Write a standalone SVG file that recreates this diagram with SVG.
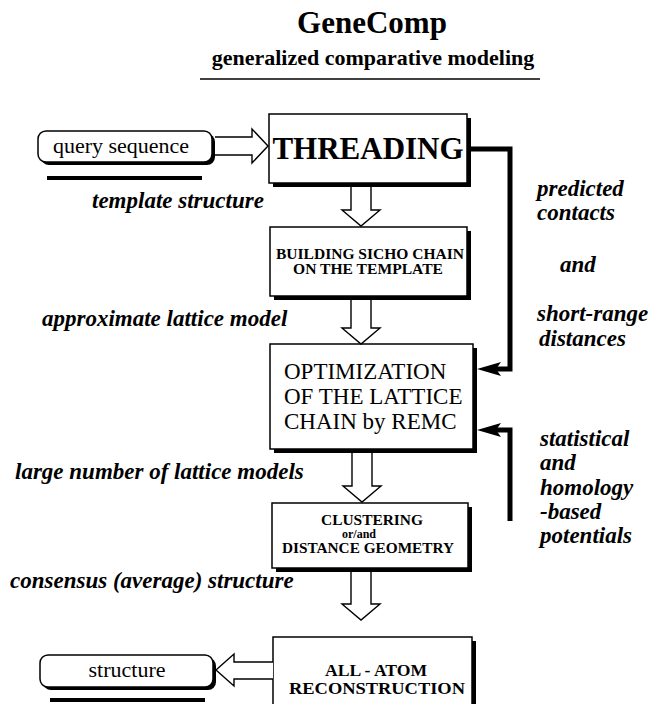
<svg xmlns="http://www.w3.org/2000/svg" width="652" height="704" viewBox="0 0 652 704">
<style>
.bg{fill:#fff}
.box{fill:#fff;stroke:#000;stroke-width:1.5}
.shadow{fill:#000}
.hollow{fill:#fff;stroke:#000;stroke-width:1.4;stroke-linejoin:miter}
.conn{fill:none;stroke:#000;stroke-width:5;stroke-linejoin:miter}
.serif{font-family:"Liberation Serif","Times New Roman",serif;fill:#000}
.b{font-weight:bold}
.lbl{font-family:"Liberation Serif","Times New Roman",serif;font-style:italic;font-weight:bold;font-size:23px;fill:#000}
.mid{text-anchor:middle}
</style>
<defs>
<marker id="ah" viewBox="0 0 24 14" refX="9" refY="7" markerWidth="24" markerHeight="14" markerUnits="userSpaceOnUse" orient="auto">
<path d="M0,0 L24,7 L0,14 L5,7 Z" fill="#000"/>
</marker>
</defs>
<rect class="bg" x="0" y="0" width="652" height="704"/>

<g id="title">
<text class="serif b mid" x="372" y="33" font-size="31">GeneComp</text>
<text class="serif b mid" x="373" y="65" font-size="22">generalized comparative modeling</text>
<line x1="200" y1="79" x2="540" y2="79" stroke="#000" stroke-width="1.5"/>
</g>

<g id="query">
<rect class="shadow" x="41" y="134" width="174" height="31" rx="8"/>
<rect class="box" x="38" y="131" width="174" height="31" rx="8"/>
<text class="serif mid" x="121" y="153" font-size="22">query sequence</text>
<rect class="shadow" x="47" y="176" width="155" height="4"/>
</g>

<g id="threading">
<rect class="shadow" x="273" y="118" width="198" height="69"/>
<rect class="box" x="269" y="114" width="198" height="69"/>
<text class="serif b mid" x="368" y="159" font-size="31">THREADING</text>
</g>

<g id="building">
<rect class="shadow" x="274" y="231" width="197" height="69"/>
<rect class="box" x="270" y="227" width="197" height="69"/>
<text class="serif b mid" x="370" y="259" font-size="14" textLength="188" lengthAdjust="spacingAndGlyphs">BUILDING SICHO CHAIN</text>
<text class="serif b mid" x="368" y="274" font-size="14" textLength="150" lengthAdjust="spacingAndGlyphs">ON THE TEMPLATE</text>
</g>

<g id="optimization">
<rect class="shadow" x="274" y="348" width="203" height="105"/>
<rect class="box" x="270" y="344" width="203" height="105"/>
<text class="serif" x="284" y="379" font-size="23">OPTIMIZATION</text>
<text class="serif" x="284" y="404" font-size="23">OF THE LATTICE</text>
<text class="serif" x="284" y="429" font-size="23">CHAIN by REMC</text>
</g>

<g id="clustering">
<rect class="shadow" x="276" y="507" width="196" height="65"/>
<rect class="box" x="272" y="503" width="196" height="65"/>
<text class="serif b mid" x="372" y="525" font-size="15" textLength="102" lengthAdjust="spacingAndGlyphs">CLUSTERING</text>
<text class="serif b mid" x="359" y="538" font-size="12">or/and</text>
<text class="serif b mid" x="368" y="553" font-size="15" textLength="172" lengthAdjust="spacingAndGlyphs">DISTANCE GEOMETRY</text>
</g>

<g id="allatom">
<rect class="shadow" x="277" y="641" width="199" height="80"/>
<rect class="box" x="273" y="637" width="199" height="80"/>
<text class="serif b mid" x="376" y="676" font-size="17" textLength="102" lengthAdjust="spacingAndGlyphs">ALL - ATOM</text>
<text class="serif b mid" x="377" y="694" font-size="17" textLength="176" lengthAdjust="spacingAndGlyphs">RECONSTRUCTION</text>
</g>

<g id="structure">
<rect class="shadow" x="43" y="658" width="173" height="32" rx="8"/>
<rect class="box" x="40" y="655" width="173" height="32" rx="8"/>
<text class="serif mid" x="127" y="677" font-size="22">structure</text>
<rect class="shadow" x="50" y="698" width="155" height="4"/>
</g>

<g id="connectors">
<path class="hollow" d="M215,137 H252 V129 L268,146 L252,163 V155 H215"/>
<path class="hollow" d="M351,187 V210 H342 L361,226 L380,210 H371 V187"/>
<path class="hollow" d="M351,300 V328 H342 L361,344 L380,328 H371 V300"/>
<path class="hollow" d="M352,453 V486 H343 L362,502 L381,486 H372 V453"/>
<path class="hollow" d="M351,572 V604 H342 L361,620 L380,604 H371 V572"/>
<path class="hollow" d="M273,662 H234 V654 L216,670 L234,686 V679 H273"/>
<path class="conn" d="M467,149 H510 V369 H492" marker-end="url(#ah)"/>
<path class="conn" d="M510,521 V430 H492" marker-end="url(#ah)"/>
</g>

<g id="labels">
<text class="lbl" x="92" y="208">template structure</text>
<text class="lbl" x="42" y="326">approximate lattice model</text>
<text class="lbl" x="15" y="479">large number of lattice models</text>
<text class="lbl" x="10" y="588">consensus (average) structure</text>
<text class="lbl" x="537" y="196">predicted</text>
<text class="lbl" x="537" y="220">contacts</text>
<text class="lbl" x="560" y="272">and</text>
<text class="lbl" x="537" y="321">short-range</text>
<text class="lbl" x="539" y="346">distances</text>
<text class="lbl" x="540" y="446">statistical</text>
<text class="lbl" x="540" y="470">and</text>
<text class="lbl" x="540" y="495">homology</text>
<text class="lbl" x="540" y="519">-based</text>
<text class="lbl" x="540" y="543">potentials</text>
</g>
</svg>
